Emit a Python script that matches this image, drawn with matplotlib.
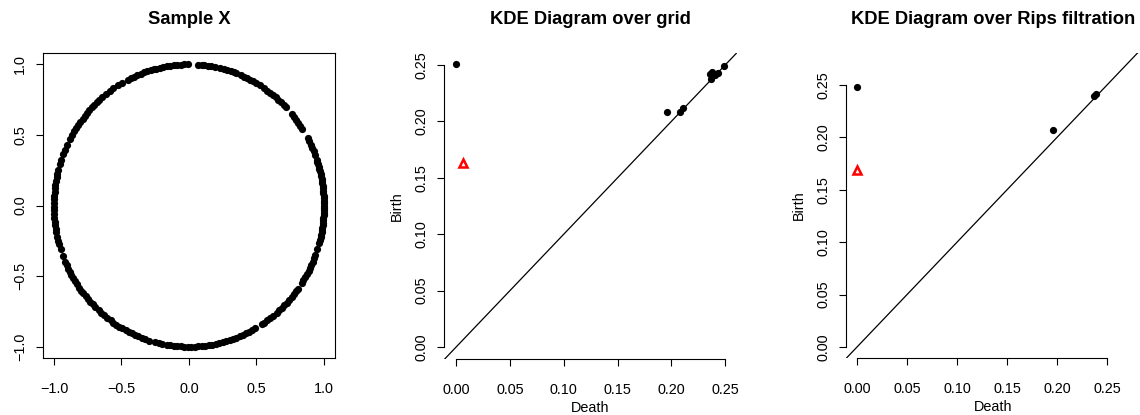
'''
Sample on the circle and the two KDE persistence diagrams
(grid and Rips filtration), side by side like the R output.
'''

import numpy as np
import matplotlib.pyplot as plt

plt.rcParams['font.family'] = ['Liberation Sans', 'DejaVu Sans']

# angles (degrees) of the sampled points, read around the circle
sample_angles = [
    0, 1, 2, 3, 4, 5, 6, 7, 8, 9, 10, 11, 12, 13, 14, 15, 16, 17, 18, 19,
    21, 22.5, 24, 25.5, 27, 28.5,
    33, 34.5, 36, 37.5, 39, 40.5,
    44, 45.5, 47, 48.5, 50, 51.5, 53, 54.5, 56,
    58.5, 60, 61.5, 63, 64.5, 66, 67.5, 69.5,
    70.5, 72, 73.5, 75, 76.5,
    79, 80.5, 82, 83.5, 84.5, 86,
    90.5, 92, 93.5, 95, 96.5, 98, 99.5, 101, 102.5, 104,
    105, 106.5, 108, 109.5, 111, 112.5, 114, 115.5, 117,
    119.5, 121.5, 124, 126, 128,
    130, 131.5, 133, 134.5, 136, 137.5, 139, 140.5, 142, 143.5, 145,
    146.5, 148, 150, 152, 154.5,
    157, 158.5, 161, 163,
    165.5, 167, 168.5, 170, 171.5, 173, 174.5, 176, 177.5, 179,
    180.5, 182, 183.5, 185, 186.5, 188, 189.5, 191,
    193, 194.5, 196, 198, 201,
    203.5, 205, 206.5, 208, 209.5, 211, 212.5, 214, 215.5, 217, 218.5,
    220, 221.5, 223, 224.5, 226,
    228, 229.5, 231, 232.7, 234.5,
    236, 237.5, 239, 240.5, 242, 243.5, 245, 246.5, 248, 249.5, 251, 253,
    255.5, 257, 258.5, 260.5,
    262, 263.5, 265, 266.5, 268, 269.5, 271, 272.5, 274, 275.5, 277,
    278.5, 280, 281.5, 283, 284.5, 286, 287.5, 289, 290.5, 292, 293.5,
    295, 296.5, 298, 299.5,
    302.7, 304, 305.5, 307, 308.5,
    310.5, 312, 313.5, 315, 316.5, 318, 319.5, 321, 322.5, 324,
    326.8, 328, 329.5, 331, 332.5, 333.6,
    335, 336.5, 338, 339.5, 342,
    344.6, 346, 347, 348, 349, 350, 351, 352, 353, 354, 355, 356, 357,
    358, 359,
]

# KDE diagram over grid: dimension 0 (black) and dimension 1 (red)
grid_death0 = [0.0, 0.1958, 0.2079, 0.2110, 0.2370, 0.2382, 0.2407,
               0.2432, 0.2360, 0.2488]
grid_birth0 = [0.2509, 0.2086, 0.2080, 0.2116, 0.2373, 0.2440, 0.2411,
               0.2432, 0.2420, 0.2494]
grid_death1 = [0.0065]
grid_birth1 = [0.1628]

# KDE diagram over Rips filtration
rips_death0 = [0.0, 0.1965, 0.2387, 0.2374]
rips_birth0 = [0.2481, 0.2073, 0.2415, 0.2392]
rips_death1 = [0.0]
rips_birth1 = [0.1691]

fig = plt.figure(figsize=(11.4, 4.15), dpi=100)

ax1 = fig.add_axes([0.0377, 0.1373, 0.2561, 0.7349])
ax2 = fig.add_axes([0.3895, 0.1349, 0.2570, 0.7373])
ax3 = fig.add_axes([0.7421, 0.1373, 0.2579, 0.7349])

tick_fs = 10.4
lab_fs = 10.4
title_fs = 13.2

# --- sample X
th = np.radians(sample_angles)
ax1.plot(np.cos(th), np.sin(th), 'o', color='black', ms=5.2, mew=0)
ax1.set_xlim(-1.081, 1.081)
ax1.set_ylim(-1.08, 1.08)
ax1.set_xticks([-1.0, -0.5, 0.0, 0.5, 1.0])
ax1.set_yticks([-1.0, -0.5, 0.0, 0.5, 1.0])
ax1.set_xticklabels(['\u22121.0', '\u22120.5', '0.0', '0.5', '1.0'])
ax1.set_yticklabels(['\u22121.0', '\u22120.5', '0.0', '0.5', '1.0'])
ax1.set_title('Sample X', fontsize=title_fs, fontweight='bold', pad=21)
for s in ax1.spines.values():
    s.set_linewidth(0.8)


def diagram(ax, d0, b0, d1, b1, xlim, ylim, title):
    ax.axline((0, 0), slope=1, color='black', lw=0.9)
    ax.plot(d0, b0, 'o', color='black', ms=5.2, mew=0, zorder=3)
    ax.plot(d1, b1, '^', mfc='none', mec='red', ms=6.2, mew=1.8, zorder=3)
    ax.set_xlim(*xlim)
    ax.set_ylim(*ylim)
    ticks = [0.0, 0.05, 0.10, 0.15, 0.20, 0.25]
    ax.set_xticks(ticks)
    ax.set_yticks(ticks)
    ax.set_xticklabels(['%.2f' % t for t in ticks])
    ax.set_yticklabels(['%.2f' % t for t in ticks])
    ax.spines['top'].set_visible(False)
    ax.spines['right'].set_visible(False)
    ax.spines['left'].set_bounds(0, 0.25)
    ax.spines['bottom'].set_bounds(0, 0.25)
    ax.spines['left'].set_linewidth(0.8)
    ax.spines['bottom'].set_linewidth(0.8)
    ax.set_xlabel('Death', fontsize=lab_fs, labelpad=3)
    ax.set_ylabel('Birth', fontsize=lab_fs, labelpad=7)
    ax.set_title(title, fontsize=title_fs, fontweight='bold', pad=21)


diagram(ax2, grid_death0, grid_birth0, grid_death1, grid_birth1,
        (-0.0112, 0.261), (-0.0106, 0.2606), 'KDE Diagram over grid')
diagram(ax3, rips_death0, rips_birth0, rips_death1, rips_birth1,
        (-0.011, 0.283), (-0.0105, 0.2805), 'KDE Diagram over Rips filtration')

for ax in (ax1, ax2, ax3):
    ax.tick_params(length=5, width=0.8, labelsize=tick_fs)
    ax.tick_params(axis='x', pad=12)
    ax.tick_params(axis='y', pad=6.5, labelrotation=90)
    for t in ax.get_yticklabels():
        t.set_va('center')

fig.savefig('out.png', dpi=100)
